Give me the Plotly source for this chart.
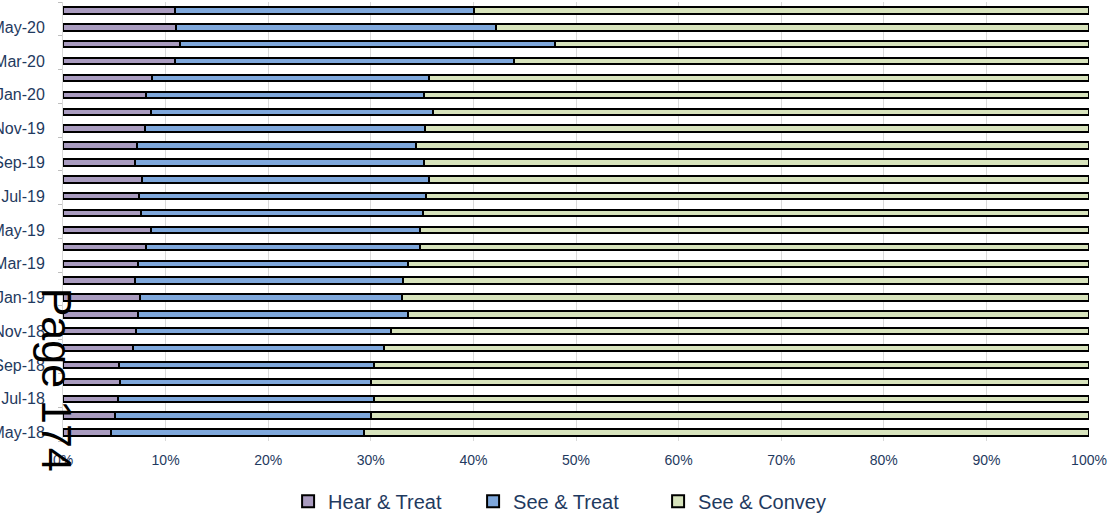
import plotly.graph_objects as go

# Monthly categories, oldest at the bottom of the chart
months = [
    "May-18", "Jun-18", "Jul-18", "Aug-18", "Sep-18", "Oct-18", "Nov-18", "Dec-18",
    "Jan-19", "Feb-19", "Mar-19", "Apr-19", "May-19", "Jun-19", "Jul-19", "Aug-19",
    "Sep-19", "Oct-19", "Nov-19", "Dec-19", "Jan-20", "Feb-20", "Mar-20", "Apr-20",
    "May-20", "Jun-20",
]

# Share of incidents by outcome (%)
hear_treat = [
    4.7, 5.1, 5.4, 5.6, 5.5, 6.8, 7.1, 7.3,
    7.5, 7.0, 7.3, 8.1, 8.6, 7.6, 7.4, 7.7,
    7.0, 7.2, 8.0, 8.6, 8.1, 8.7, 10.9, 11.4,
    11.0, 10.9,
]
see_treat = [
    24.6, 24.9, 24.9, 24.4, 24.8, 24.5, 24.9, 26.3,
    25.5, 26.1, 26.3, 26.7, 26.2, 27.5, 28.0, 28.0,
    28.2, 27.2, 27.3, 27.5, 27.1, 27.0, 33.1, 36.6,
    31.2, 29.2,
]
see_convey = [
    70.7, 70.0, 69.7, 70.0, 69.7, 68.7, 68.0, 66.4,
    67.0, 66.9, 66.4, 65.2, 65.2, 64.9, 64.6, 64.3,
    64.8, 65.6, 64.7, 63.9, 64.8, 64.3, 56.0, 52.0,
    57.8, 59.9,
]

series = [
    ("Hear & Treat", hear_treat, "#A99BBF"),
    ("See & Treat", see_treat, "#7EA7DB"),
    ("See & Convey", see_convey, "#D7E3BC"),
]

text_col = "#1F3A60"
font_family = "Liberation Sans, Arial, sans-serif"

fig = go.Figure()
for name, vals, col in series:
    fig.add_trace(go.Bar(
        y=months, x=vals, name=name, orientation="h",
        marker=dict(color=col, line=dict(color="#000000", width=2)),
    ))

fig.update_layout(
    barmode="stack",
    bargap=0.62,
    width=1109, height=514,
    margin=dict(l=63, r=20, t=2, b=73, autoexpand=False),
    paper_bgcolor="white", plot_bgcolor="white",
    font=dict(family=font_family, color=text_col),
    showlegend=True,
    legend=dict(
        orientation="h", xref="container", x=0.51, xanchor="center",
        yref="container", y=0.025, yanchor="middle",
        font=dict(size=20, color=text_col), traceorder="normal",
        itemwidth=30, entrywidth=140, entrywidthmode="pixels",
    ),
    xaxis=dict(
        range=[0, 100], dtick=10, ticksuffix="%",
        showgrid=True, gridcolor="#D9D9D9", gridwidth=1,
        zeroline=False, showline=False, automargin=False,
        tickfont=dict(size=14, color=text_col),
        ticks="", ticklabelstandoff=9, fixedrange=True,
    ),
    yaxis=dict(
        type="category", categoryorder="array", categoryarray=months,
        tickmode="linear", tick0=0, dtick=2,
        tickson="boundaries", ticks="outside", ticklen=4, tickcolor="#BFBFBF",
        showline=True, linecolor="#D9D9D9", linewidth=1,
        showgrid=False, ticklabelstandoff=14, automargin=False,
        tickfont=dict(size=16, color=text_col),
        range=[-0.5, len(months) - 0.5],
    ),
)

fig.add_annotation(
    text="Page 174", xref="paper", yref="paper",
    x=-0.005, y=0.14, xanchor="center", yanchor="middle",
    textangle=90, showarrow=False,
    font=dict(family=font_family, size=43, color="#000000"),
)

fig.write_html("out.html")
